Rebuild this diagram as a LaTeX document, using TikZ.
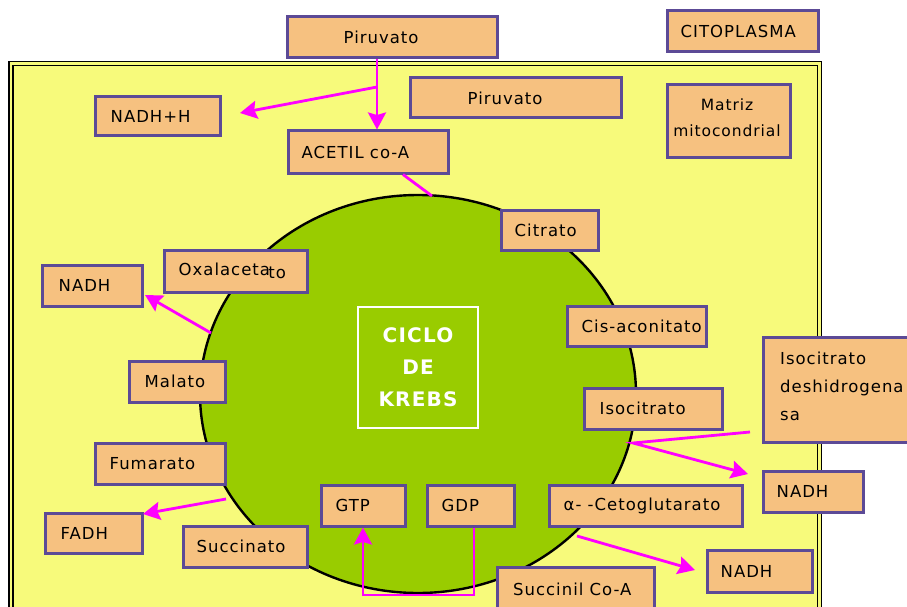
\documentclass[tikz,border=0pt]{standalone}
\usepackage{fontspec}
\setmainfont[LetterSpace=6]{DejaVu Sans}
\usetikzlibrary{arrows.meta,shapes.geometric}
\definecolor{yel}{RGB}{247,250,123}
\definecolor{grn}{RGB}{153,204,0}
\definecolor{boxf}{RGB}{246,193,128}
\definecolor{boxd}{RGB}{92,74,150}
\definecolor{mag}{RGB}{255,0,255}
\newcommand{\mybox}[7]{%
  \node[boxst, minimum width={#4-#2}, minimum height={#5-#3}] (#1) at ({(#2+#4)/2},{(#3+#5)/2}) {};
  \node[txt] (#1t) at ([xshift=#6]#1.west) {#7};}
\begin{document}
\begin{tikzpicture}[x=1pt,y=-1pt,
  boxst/.style={draw=boxd, fill=boxf, line width=3pt, inner sep=0pt},
  txt/.style={anchor=west, inner sep=0pt, font=\fontsize{16.5}{28}\selectfont},
  arr/.style={draw=mag, line width=2.8pt, -{Stealth[length=17pt,width=18pt,inset=2.5pt]}},
  ln/.style={draw=mag, line width=2.8pt}]
\useasboundingbox (0,0) rectangle (907,607);
\clip (0,0) rectangle (907,607);
% mitochondrion
\fill[yel] (9,61.5) rectangle (821.5,640);
\draw[line width=1.4pt] (9,640) -- (9,61.5) -- (821.5,61.5) -- (821.5,640);
\draw[line width=1.4pt] (13,640) -- (13,65.5) -- (817.5,65.5) -- (817.5,640);
% cycle
\node[ellipse, draw, fill=grn, line width=2.4pt, minimum width=436pt, minimum height=398pt, inner sep=0pt] (krebs) at (418,394) {};
\node[draw=white, line width=2.2pt, minimum width=120pt, minimum height=121pt, inner sep=0pt] (cbox) at (418,367.5) {};
\node[text=white, font=\fontsize{20}{32}\selectfont\bfseries, align=center] (ctext) at (cbox) {CICLO\\DE\\KREBS};
% boxes
\mybox{pir1}{287}{17}{497}{58}{58}{Piruvato}
\mybox{cito}{667}{11}{818}{52}{15}{CITOPLASMA}
\mybox{pir2}{410}{78}{621}{118}{59}{Piruvato}
\mybox{matriz}{667}{85}{790}{157}{0}{}
\node[font=\fontsize{15.5}{26}\selectfont, align=center, inner sep=0pt] (matrizt) at (727,118) {Matriz\\mitocondrial};
\mybox{nadhh}{95}{97}{220}{136}{17}{NADH+H}
\mybox{acetil}{288}{131}{448}{173}{15}{ACETIL co-A}
\mybox{citrato}{501}{210}{598}{250}{15}{Citrato}
\mybox{oxa}{164}{250}{307}{292}{16}{Oxalaceta\kern-1.5pt\raisebox{-2.5pt}{to}}
\mybox{nadhA}{42}{265}{142}{306}{18}{NADH}
\mybox{malato}{129}{361}{225}{402}{17}{Malato}
\mybox{cis}{567}{306}{706}{346}{16}{Cis-aconitato}
\mybox{isodh}{763}{337}{925}{442}{0}{}
\node[font=\fontsize{16.5}{28}\selectfont, align=left, anchor=west, inner sep=0pt] (isodht) at (780,386) {Isocitrato\\deshidrogena\\sa};
\mybox{iso}{584}{388}{722}{429}{17}{Isocitrato}
\mybox{nadhB}{763}{471}{863}{512}{15}{NADH}
\mybox{alfa}{549}{485}{742}{526}{16}{α- -Cetoglutarato}
\mybox{nadhC}{707}{550}{812}{592}{15}{NADH}
\mybox{succoa}{497}{567}{654}{625}{16}{}
\node[txt] (succoat) at (513,589) {Succinil Co-A};
\mybox{gdp}{427}{485}{514}{526}{16}{GDP}
\mybox{gtp}{321}{485}{405}{526}{16}{GTP}
\mybox{succ}{183}{526}{307}{567}{15}{Succinato}
\mybox{fuma}{95}{443}{225}{484}{16}{Fumarato}
\mybox{fadh}{45}{513}{142}{553}{17}{FADH}
% connectors
\coordinate (pb) at (377,87);
\coordinate (tNADHH) at (240,113);
\draw[arr] (pir1.south -| pb) -- (acetil.north -| pb);
\draw[arr] (pb) -- (tNADHH);
\coordinate (c1) at (432,196);
\draw[ln] ([xshift=35]acetil.south) -- (c1);
\coordinate (c2) at (211,333);
\coordinate (t2) at (145,295);
\draw[arr] (c2) -- (t2);
\coordinate (c3) at (226,499);
\coordinate (t3) at (143,514);
\draw[arr] (c3) -- (t3);
\coordinate (e4) at (750,432);
\coordinate (c4) at (633,443);
\coordinate (t4) at (748,474);
\draw[arr] (e4) -- (c4) -- (t4);
\coordinate (c5) at (577,536);
\coordinate (t5) at (695,570);
\draw[arr] (c5) -- (t5);
\coordinate (bot) at (0,595);
\draw[arr] ([xshift=3.5]gdp.south) -- ([xshift=3.5]gdp.south |- bot) -| (gtp.south);
\end{tikzpicture}
\end{document}
